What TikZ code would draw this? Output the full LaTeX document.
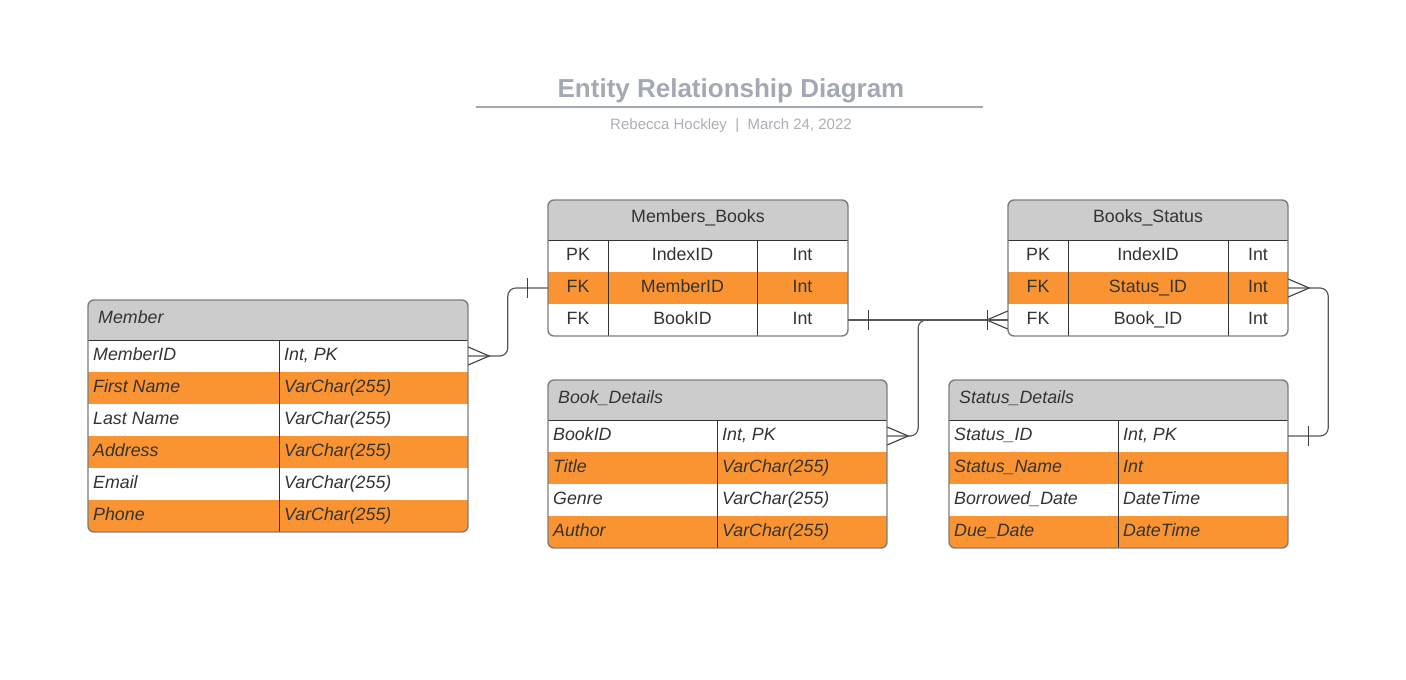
\documentclass[tikz,border=0pt]{standalone}
\usepackage{fontspec}
\setmainfont{Liberation Sans}
\definecolor{rowor}{RGB}{250,148,50}
\definecolor{hdrgray}{RGB}{204,204,204}
\definecolor{txtgray}{RGB}{51,51,51}
\definecolor{boxgray}{RGB}{125,125,125}
\definecolor{ttlgray}{RGB}{163,169,180}
\definecolor{subgray}{RGB}{170,175,184}
\tikzset{
  cell/.style={inner sep=0pt, text=txtgray, text height=10pt, text depth=0pt,
    font=\fontsize{17.8}{20}\selectfont},
  icell/.style={cell, font=\fontsize{17.8}{20}\selectfont\itshape, anchor=west},
  rowbox/.style={inner sep=0pt, minimum height=32pt},
  hdrbox/.style={inner sep=0pt, minimum height=40pt, fill=hdrgray},
  outline/.style={draw=boxgray, line width=1.4pt, rounded corners=6pt},
  sep/.style={draw=txtgray, line width=0.9pt},
  conn/.style={draw=black!65, line width=1.2pt, rounded corners=8pt},
  crowfoot/.pic={\draw[black!75, line width=1.1pt] (0,-9) -- (21,0) -- (0,9);},
  onebar/.pic={\draw[black!75, line width=1.1pt] (0,-10) -- (0,10);}
}
\begin{document}
\begin{tikzpicture}[x=1pt,y=-1pt]
\path[fill=white] (0,0) rectangle (1406,680);
\useasboundingbox (0,0) rectangle (1406,680);

% title block
\node[font=\fontsize{26}{30}\selectfont\bfseries, text=ttlgray, anchor=base] (title) at (731,97) {Entity Relationship Diagram};
\draw[ttlgray, line width=2pt] (476,107) -- (983,107);
\node[font=\fontsize{15}{18}\selectfont, text=subgray, anchor=base] (subtitle) at (731,129) {Rebecca Hockley\ \ |\ \ March 24, 2022};

% Member
\begin{scope}
  \clip[rounded corners=6pt] (88,300) rectangle (468,532);
  \node[hdrbox, minimum width=380pt] (member) at (278,320) {};
  \node[icell] (member-h) at (98,318) {Member};
  \foreach \a/\b/\c [count=\i from 0] in {MemberID/{Int, PK}/white, First Name/VarChar(255)/rowor,
      Last Name/VarChar(255)/white, Address/VarChar(255)/rowor, Email/VarChar(255)/white, Phone/VarChar(255)/rowor} {
    \node[rowbox, minimum width=380pt, fill=\c] (member-\i) at (278,356+32*\i) {};
    \node[icell] (member-\i-n) at (93,355+32*\i) {\a};
    \node[icell] (member-\i-t) at (284,355+32*\i) {\b};
  }
\end{scope}
\draw[sep] (88,340) -- (468,340) (279,340) -- (279,532);
\draw[outline] (88,300) rectangle (468,532);

% Members_Books
\begin{scope}
  \clip[rounded corners=6pt] (548,200) rectangle (848,336);
  \node[hdrbox, minimum width=300pt] (mb) at (698,220) {};
  \node[cell] (mb-h) at (698,217) {Members\_Books};
  \foreach \k/\f/\t/\c [count=\i from 0] in {PK/IndexID/Int/white, FK/MemberID/Int/rowor, FK/BookID/Int/white} {
    \node[rowbox, minimum width=300pt, fill=\c] (mb-\i) at (698,256+32*\i) {};
    \node[cell] (mb-\i-k) at (578,255+32*\i) {\k};
    \node[cell] (mb-\i-f) at (682.5,255+32*\i) {\f};
    \node[cell] (mb-\i-t) at (802.5,255+32*\i) {\t};
  }
\end{scope}
\draw[sep] (548,240) -- (848,240) (608,240) -- (608,336) (757,240) -- (757,336);
\draw[outline] (548,200) rectangle (848,336);

% Books_Status
\begin{scope}
  \clip[rounded corners=6pt] (1008,200) rectangle (1288,336);
  \node[hdrbox, minimum width=280pt] (bs) at (1148,220) {};
  \node[cell] (bs-h) at (1148,217) {Books\_Status};
  \foreach \k/\f/\t/\c [count=\i from 0] in {PK/IndexID/Int/white, FK/Status\_ID/Int/rowor, FK/Book\_ID/Int/white} {
    \node[rowbox, minimum width=280pt, fill=\c] (bs-\i) at (1148,256+32*\i) {};
    \node[cell] (bs-\i-k) at (1038,255+32*\i) {\k};
    \node[cell] (bs-\i-f) at (1148,255+32*\i) {\f};
    \node[cell] (bs-\i-t) at (1258,255+32*\i) {\t};
  }
\end{scope}
\draw[sep] (1008,240) -- (1288,240) (1068,240) -- (1068,336) (1228,240) -- (1228,336);
\draw[outline] (1008,200) rectangle (1288,336);

% Book_Details
\begin{scope}
  \clip[rounded corners=6pt] (548,380) rectangle (887,548);
  \node[hdrbox, minimum width=339pt] (bd) at (717.5,400) {};
  \node[icell] (bd-h) at (558,398) {Book\_Details};
  \foreach \a/\b/\c [count=\i from 0] in {BookID/{Int, PK}/white, Title/VarChar(255)/rowor,
      Genre/VarChar(255)/white, Author/VarChar(255)/rowor} {
    \node[rowbox, minimum width=339pt, fill=\c] (bd-\i) at (717.5,436+32*\i) {};
    \node[icell] (bd-\i-n) at (553,435+32*\i) {\a};
    \node[icell] (bd-\i-t) at (722,435+32*\i) {\b};
  }
\end{scope}
\draw[sep] (548,420) -- (887,420) (717,420) -- (717,548);
\draw[outline] (548,380) rectangle (887,548);

% Status_Details
\begin{scope}
  \clip[rounded corners=6pt] (949,380) rectangle (1288,548);
  \node[hdrbox, minimum width=339pt] (sd) at (1118.5,400) {};
  \node[icell] (sd-h) at (959,398) {Status\_Details};
  \foreach \a/\b/\c [count=\i from 0] in {Status\_ID/{Int, PK}/white, Status\_Name/Int/rowor,
      Borrowed\_Date/DateTime/white, Due\_Date/DateTime/rowor} {
    \node[rowbox, minimum width=339pt, fill=\c] (sd-\i) at (1118.5,436+32*\i) {};
    \node[icell] (sd-\i-n) at (954,435+32*\i) {\a};
    \node[icell] (sd-\i-t) at (1123,435+32*\i) {\b};
  }
\end{scope}
\draw[sep] (949,420) -- (1288,420) (1118,420) -- (1118,548);
\draw[outline] (949,380) rectangle (1288,548);

% relationships
\draw[conn] (member-0.east) -| ([xshift=-40pt]mb-1.west) -- (mb-1.west);
\pic at (member-0.east) {crowfoot};
\pic at ([xshift=-20pt]mb-1.west) {onebar};

\draw[conn] (mb-2.east) -- (bs-2.west);
\pic at ([xshift=20pt]mb-2.east) {onebar};
\pic[xscale=-1] at (bs-2.west) {crowfoot};
\pic at ([xshift=-20pt]bs-2.west) {onebar};

\draw[conn] (bd-0.east) -- ++(31,0) |- (bs-2.west);
\pic at (bd-0.east) {crowfoot};

\draw[conn] (bs-1.east) -- ++(40,0) |- (sd-0.east);
\pic at (bs-1.east) {crowfoot};
\pic at ([xshift=20pt]sd-0.east) {onebar};
\end{tikzpicture}
\end{document}
